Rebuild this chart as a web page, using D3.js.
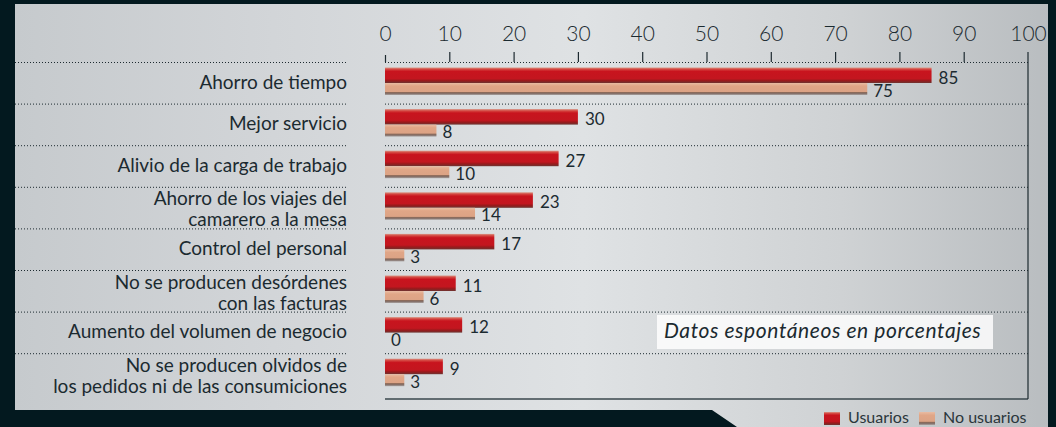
<!DOCTYPE html>
<html>
<head>
<meta charset="utf-8">
<script src="https://cdn.jsdelivr.net/npm/d3@7"></script>
<style>
  html, body { margin: 0; padding: 0; background: #03191f; }
  svg { display: block; font-family: Lato, "Open Sans", sans-serif; }
</style>
</head>
<body>
<svg width="1056" height="427"></svg>
<script>
// data
const categories = [
  "Ahorro de tiempo",
  "Mejor servicio",
  "Alivio de la carga de trabajo",
  "Ahorro de los viajes del\ncamarero a la mesa",
  "Control del personal",
  "No se producen desórdenes\ncon las facturas",
  "Aumento del volumen de negocio",
  "No se producen olvidos de\nlos pedidos ni de las consumiciones"
];
const usuarios = [85, 30, 27, 23, 17, 11, 12, 9];
const noUsuarios = [75, 8, 10, 14, 3, 6, 0, 3];
const seriesNames = ["Usuarios", "No usuarios"];
const tickValues = [0, 10, 20, 30, 40, 50, 60, 70, 80, 90, 100];
const note = "Datos espontáneos en porcentajes";

const svg = d3.select("svg");
const textColor = "#1b2a30";

// gradients
const defs = svg.append("defs");
const bg = defs.append("linearGradient").attr("id", "panel")
  .attr("x1", 0).attr("x2", 1).attr("y1", 0).attr("y2", 0);
[["0%", "#c6cacd"], ["25%", "#d2d5d8"], ["55%", "#dfe2e4"], ["80%", "#cfd2d4"], ["100%", "#b9bdc0"]]
  .forEach(s => bg.append("stop").attr("offset", s[0]).attr("stop-color", s[1]));

const redG = defs.append("linearGradient").attr("id", "red")
  .attr("x1", 0).attr("x2", 0).attr("y1", 0).attr("y2", 1);
[["0%", "#d99585"], ["12%", "#d4443f"], ["25%", "#c8141e"], ["72%", "#c3161f"], ["85%", "#981a1c"], ["100%", "#6d3431"]]
  .forEach(s => redG.append("stop").attr("offset", s[0]).attr("stop-color", s[1]));

const orG = defs.append("linearGradient").attr("id", "orange")
  .attr("x1", 0).attr("x2", 0).attr("y1", 0).attr("y2", 1);
[["0%", "#e9bca3"], ["25%", "#e0a687"], ["72%", "#dca385"], ["78%", "#8d6a58"], ["88%", "#84706a"], ["100%", "#a9a4a2"]]
  .forEach(s => orG.append("stop").attr("offset", s[0]).attr("stop-color", s[1]));

// panel
svg.append("path")
  .attr("d", "M15,4 L1048,4 L1048,427 L737,427 L712,410 L15,410 Z")
  .attr("fill", "url(#panel)");

// scales
const x = d3.scaleLinear().domain([0, 100]).range([385, 1028]);
const rowH = 41.6;
const y = d3.scaleBand().domain(categories).range([62, 62 + rowH * categories.length]);

// separators
const sep = svg.append("g").attr("stroke", "#1d2a30").attr("stroke-dasharray", "1,2");
categories.forEach(c => {
  sep.append("line").attr("x1", 15).attr("x2", 348).attr("y1", y(c) + 0.5).attr("y2", y(c) + 0.5);
  sep.append("line").attr("x1", 385).attr("x2", 1028).attr("y1", y(c) + 0.5).attr("y2", y(c) + 0.5);
});

// bottom and right border
svg.append("line").attr("x1", 385).attr("x2", 1028).attr("y1", 399).attr("y2", 399)
  .attr("stroke", "#3a474c").attr("stroke-width", 1.5);
svg.append("line").attr("x1", 1028).attr("x2", 1028).attr("y1", 52).attr("y2", 399)
  .attr("stroke", "#1d2a30").attr("stroke-width", 1.2);

// axis
const axis = svg.append("g")
  .attr("transform", "translate(0,62)")
  .call(d3.axisTop(x).tickValues(tickValues).tickSize(10).tickPadding(11));
axis.select(".domain").remove();
axis.selectAll(".tick line").attr("stroke", "#1d2a30").attr("stroke-width", 1.2);
axis.selectAll(".tick").filter(d => d === 0).select("line").attr("y2", -7);
axis.selectAll(".tick").filter(d => d === 100).select("line").remove();
axis.selectAll(".tick text")
  .attr("fill", textColor)
  .style("font-size", "21px")
  .style("font-family", "Lato, sans-serif")
  .style("font-weight", 300);

// category labels
const labels = svg.append("g")
  .attr("fill", textColor)
  .attr("text-anchor", "end")
  .style("font-size", "19px");
categories.forEach(c => {
  const lines = c.split("\n");
  const t = labels.append("text");
  if (lines.length === 1) {
    t.append("tspan").attr("x", 347).attr("y", y(c) + 26.5).text(lines[0]);
  } else {
    t.append("tspan").attr("x", 347).attr("y", y(c) + 18.5).text(lines[0]);
    t.append("tspan").attr("x", 347).attr("y", y(c) + 39.5).text(lines[1]);
  }
});

// bars
const rows = svg.selectAll(".row").data(categories).enter().append("g").attr("class", "row");
rows.append("rect")
  .attr("x", x(0))
  .attr("y", d => y(d) + 5.5)
  .attr("width", (d, i) => x(usuarios[i]) - x(0))
  .attr("height", 15.5)
  .attr("fill", "url(#red)");
rows.append("rect")
  .attr("x", x(0))
  .attr("y", d => y(d) + 21)
  .attr("width", (d, i) => x(noUsuarios[i]) - x(0))
  .attr("height", 12)
  .attr("fill", "url(#orange)");

// value labels
rows.append("text")
  .attr("x", (d, i) => x(usuarios[i]) + 7)
  .attr("y", d => y(d) + 21.5)
  .attr("fill", textColor)
  .style("font-size", "17px")
  .text((d, i) => usuarios[i]);
rows.append("text")
  .attr("x", (d, i) => x(noUsuarios[i]) + 6)
  .attr("y", d => y(d) + 34.5)
  .attr("fill", textColor)
  .style("font-size", "17px")
  .text((d, i) => noUsuarios[i]);

// note box
svg.append("rect")
  .attr("x", 657).attr("y", 315).attr("width", 336).attr("height", 34)
  .attr("fill", "#ffffff").attr("fill-opacity", 0.82);
svg.append("text")
  .attr("x", 664).attr("y", 338)
  .attr("fill", textColor)
  .style("font-size", "21px")
  .style("font-style", "italic")
  .style("letter-spacing", "0.6px")
  .text(note);

// legend
const legend = svg.append("g").style("font-size", "16px").attr("fill", "#2a363b");
legend.append("rect").attr("x", 824).attr("y", 412).attr("width", 16).attr("height", 13).attr("fill", "url(#red)");
legend.append("text").attr("x", 848).attr("y", 423).text(seriesNames[0]);
legend.append("rect").attr("x", 919).attr("y", 412).attr("width", 16).attr("height", 13).attr("fill", "url(#orange)");
legend.append("text").attr("x", 943).attr("y", 423).text(seriesNames[1]);
</script>
</body>
</html>
